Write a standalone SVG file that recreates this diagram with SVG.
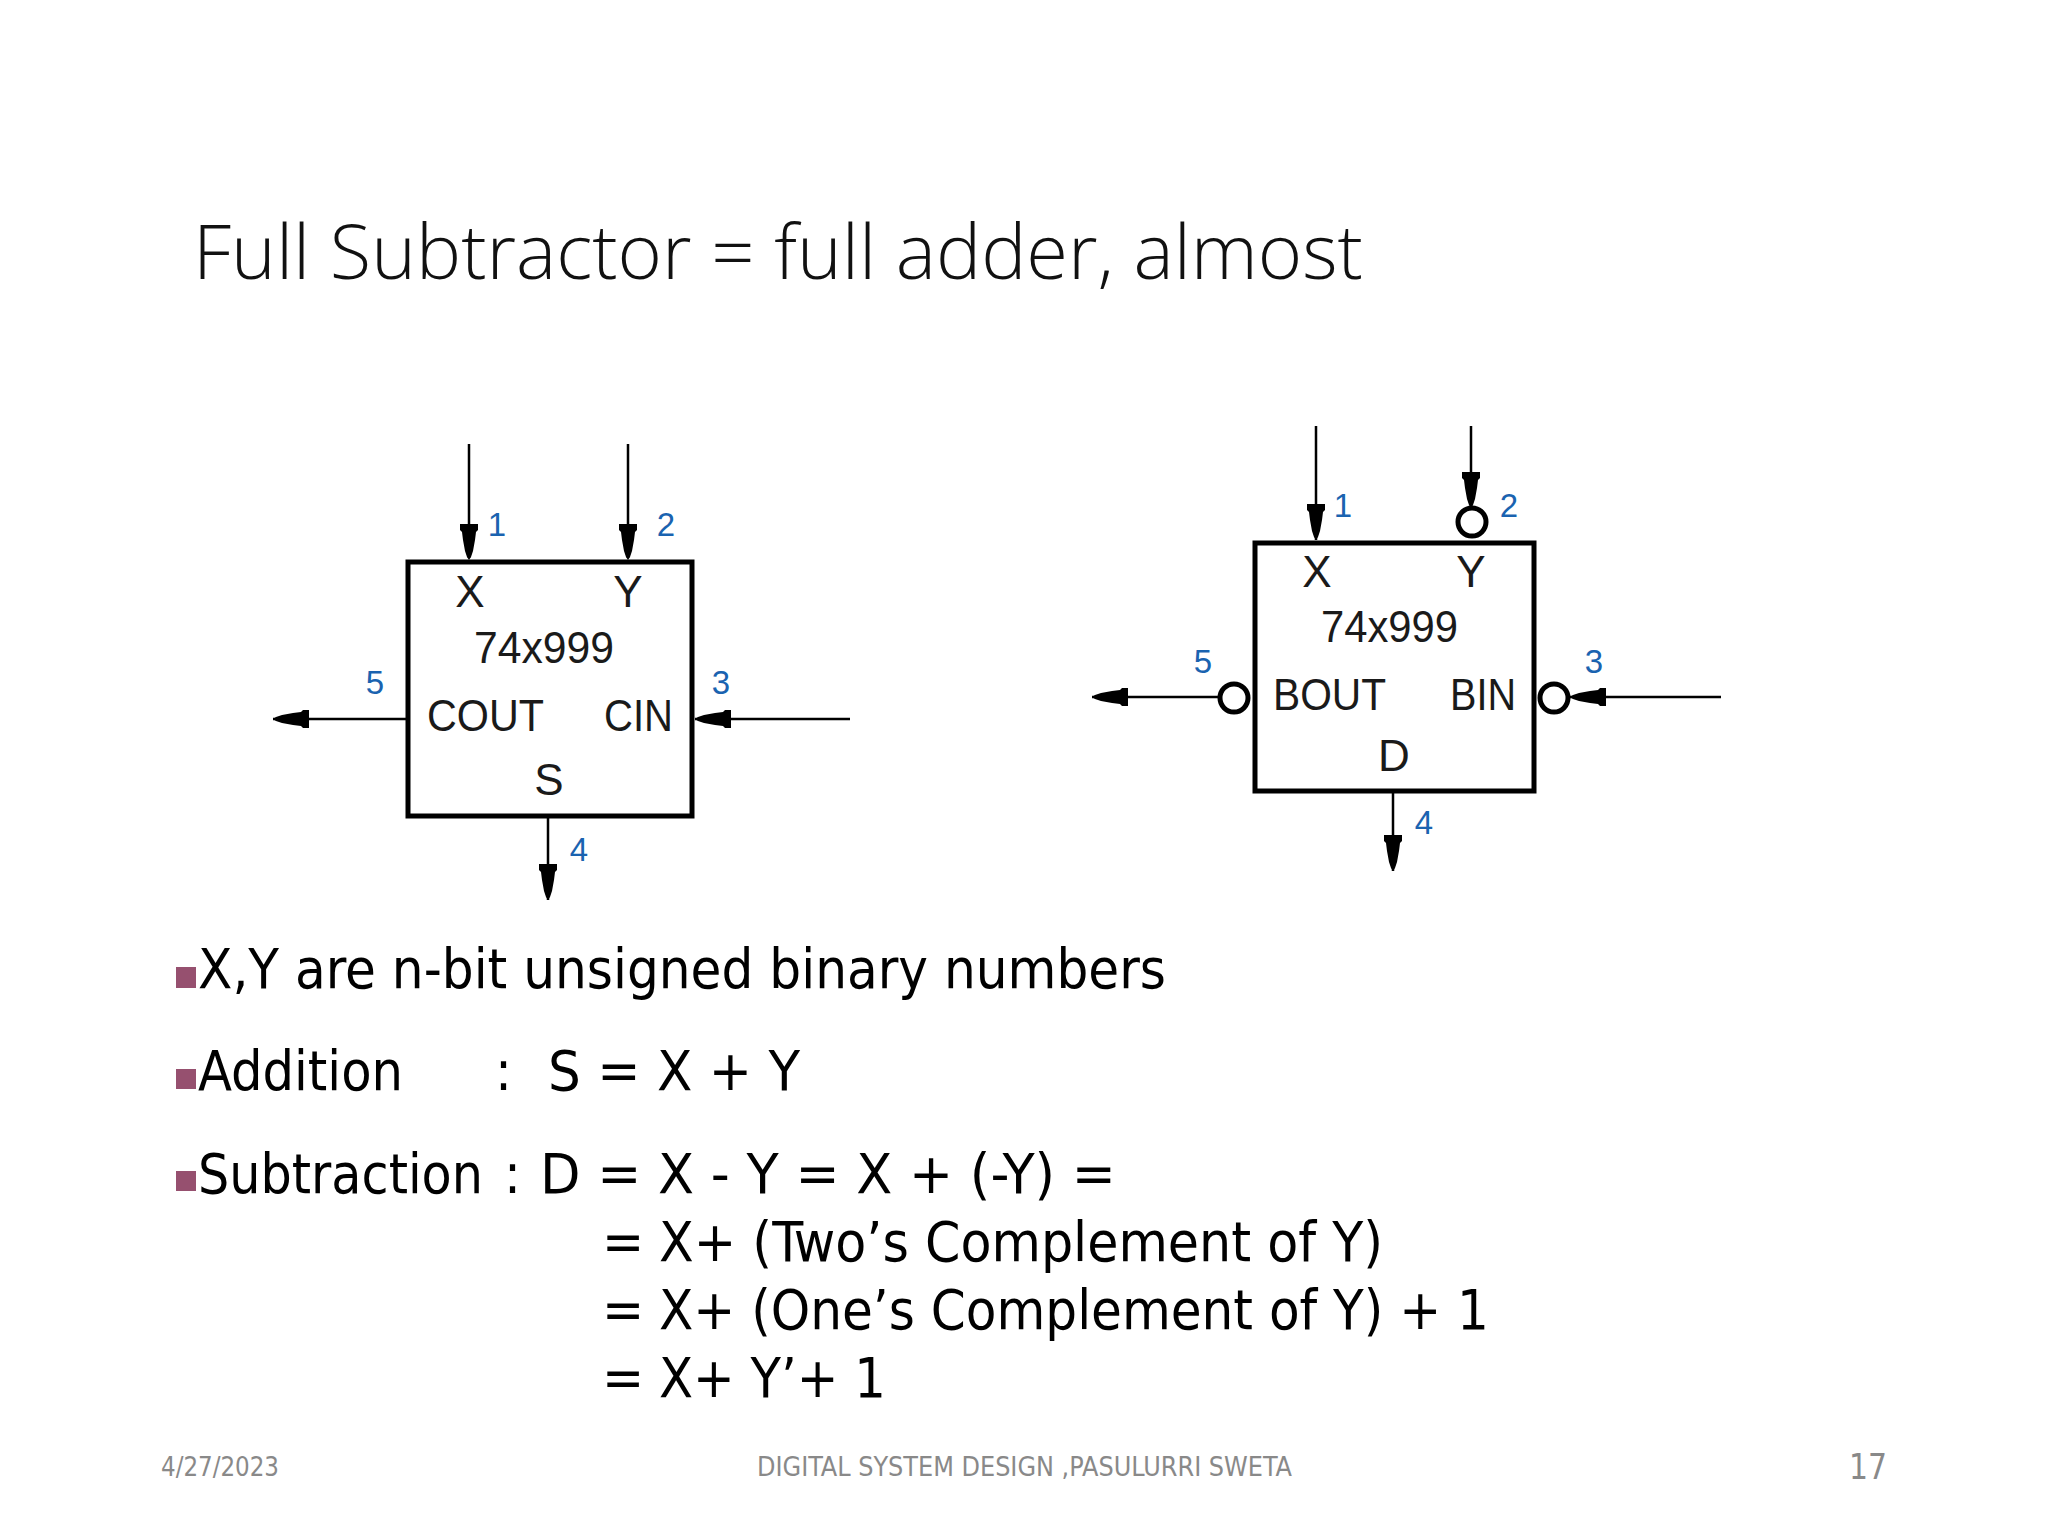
<svg xmlns="http://www.w3.org/2000/svg" xmlns:xlink="http://www.w3.org/1999/xlink" width="2048" height="1536" viewBox="0 0 2048 1536">
<style>
.t{font-family:"DejaVu Sans",sans-serif;font-stretch:condensed;fill:#000;font-size:56px}
.title{font-family:"Open Sans","Noto Sans",sans-serif;fill:#111;font-size:76px;font-weight:300}
.f{font-family:"DejaVu Sans",sans-serif;font-stretch:condensed;fill:#898989;font-size:26px}
.l{font-family:"Liberation Sans",Arial,sans-serif;font-size:44px;fill:#1a1a1a}
.n{font-family:"Liberation Sans",Arial,sans-serif;font-size:33px;fill:#1a63b0}
.box{fill:#fff;stroke:#000;stroke-width:5}
.w{fill:none;stroke:#000;stroke-width:2.5}
.bub{fill:#fff;stroke:#000;stroke-width:5}
.sq{fill:#96506f}
</style>
<defs><path id="h" d="M0,0 L-3,-2 L-9,-4 L-20,-6 L-28,-7 L-30,-9 L-36,-9 L-36,9 L-30,9 L-28,7 L-20,6 L-9,4 L-3,2 Z" fill="#000"/></defs>
<rect width="2048" height="1536" fill="#fff"/>
<text class="title" x="193" y="279" textLength="1170" lengthAdjust="spacingAndGlyphs">Full Subtractor = full adder, almost</text>
<g id="connectors">
<path class="w" d="M469,444V558M628,444V558M407,719H273M850,719H695M548,816V900"/>
<path class="w" d="M1316,426V540M1471,426V506M1220,697H1092M1721,697H1570M1393,791V871"/>
<use xlink:href="#h" transform="translate(469,560) rotate(90)"/>
<use xlink:href="#h" transform="translate(628,560) rotate(90)"/>
<use xlink:href="#h" transform="translate(273,719) rotate(180)"/>
<use xlink:href="#h" transform="translate(695,719) rotate(180)"/>
<use xlink:href="#h" transform="translate(548,900) rotate(90)"/>
<use xlink:href="#h" transform="translate(1316,540) rotate(90)"/>
<use xlink:href="#h" transform="translate(1471,508) rotate(90)"/>
<use xlink:href="#h" transform="translate(1092,697) rotate(180)"/>
<use xlink:href="#h" transform="translate(1570,697) rotate(180)"/>
<use xlink:href="#h" transform="translate(1393,871) rotate(90)"/>
</g>
<g id="adder">
<rect class="box" x="408" y="562" width="284" height="254"/>
<text class="l" x="470" y="607" text-anchor="middle">X</text>
<text class="l" x="628" y="607" text-anchor="middle">Y</text>
<text class="l" x="474" y="663" textLength="140" lengthAdjust="spacingAndGlyphs">74x999</text>
<text class="l" x="427" y="731" textLength="117" lengthAdjust="spacingAndGlyphs">COUT</text>
<text class="l" x="604" y="731" textLength="69" lengthAdjust="spacingAndGlyphs">CIN</text>
<text class="l" x="549" y="795" text-anchor="middle">S</text>
<text class="n" x="497" y="536" text-anchor="middle">1</text>
<text class="n" x="666" y="536" text-anchor="middle">2</text>
<text class="n" x="721" y="694" text-anchor="middle">3</text>
<text class="n" x="579" y="861" text-anchor="middle">4</text>
<text class="n" x="375" y="694" text-anchor="middle">5</text>
</g>
<g id="subtractor">
<rect class="box" x="1255" y="543" width="279" height="248"/>
<circle class="bub" cx="1472" cy="522" r="14"/>
<circle class="bub" cx="1234" cy="698" r="14"/>
<circle class="bub" cx="1554" cy="698" r="14"/>
<text class="l" x="1317" y="587" text-anchor="middle">X</text>
<text class="l" x="1471" y="587" text-anchor="middle">Y</text>
<text class="l" x="1321" y="642" textLength="137" lengthAdjust="spacingAndGlyphs">74x999</text>
<text class="l" x="1273" y="710" textLength="113" lengthAdjust="spacingAndGlyphs">BOUT</text>
<text class="l" x="1450" y="710" textLength="66" lengthAdjust="spacingAndGlyphs">BIN</text>
<text class="l" x="1394" y="771" text-anchor="middle">D</text>
<text class="n" x="1343" y="517" text-anchor="middle">1</text>
<text class="n" x="1509" y="517" text-anchor="middle">2</text>
<text class="n" x="1594" y="673" text-anchor="middle">3</text>
<text class="n" x="1424" y="834" text-anchor="middle">4</text>
<text class="n" x="1203" y="673" text-anchor="middle">5</text>
</g>
<rect class="sq" x="176" y="967" width="20" height="21"/>
<rect class="sq" x="176" y="1069" width="20" height="20"/>
<rect class="sq" x="176" y="1171" width="20" height="20"/>
<text class="t" x="198" y="988" textLength="968" lengthAdjust="spacingAndGlyphs">X,Y are n-bit unsigned binary numbers</text>
<text class="t" x="198" y="1090" textLength="205" lengthAdjust="spacingAndGlyphs">Addition</text>
<text class="t" x="495" y="1090">:</text>
<text class="t" x="548" y="1090" textLength="252" lengthAdjust="spacingAndGlyphs">S = X + Y</text>
<text class="t" x="198" y="1193" textLength="285" lengthAdjust="spacingAndGlyphs">Subtraction</text>
<text class="t" x="504" y="1193">:</text>
<text class="t" x="540" y="1193" textLength="576" lengthAdjust="spacingAndGlyphs">D = X - Y = X + (-Y) =</text>
<text class="t" x="602" y="1261">=</text>
<text class="t" x="659" y="1261" textLength="724" lengthAdjust="spacingAndGlyphs">X+ (Two’s Complement of Y)</text>
<text class="t" x="602" y="1329">=</text>
<text class="t" x="659" y="1329" textLength="830" lengthAdjust="spacingAndGlyphs">X+ (One’s Complement of Y) + 1</text>
<text class="t" x="602" y="1397">=</text>
<text class="t" x="659" y="1397" textLength="227" lengthAdjust="spacingAndGlyphs">X+ Y’+ 1</text>
<text class="f" x="161" y="1476" textLength="118" lengthAdjust="spacingAndGlyphs">4/27/2023</text>
<text class="f" x="757" y="1476" textLength="535" lengthAdjust="spacingAndGlyphs">DIGITAL SYSTEM DESIGN ,PASULURRI SWETA</text>
<text class="f" x="1849" y="1479" style="font-size:36px" textLength="38" lengthAdjust="spacingAndGlyphs">17</text>
</svg>
